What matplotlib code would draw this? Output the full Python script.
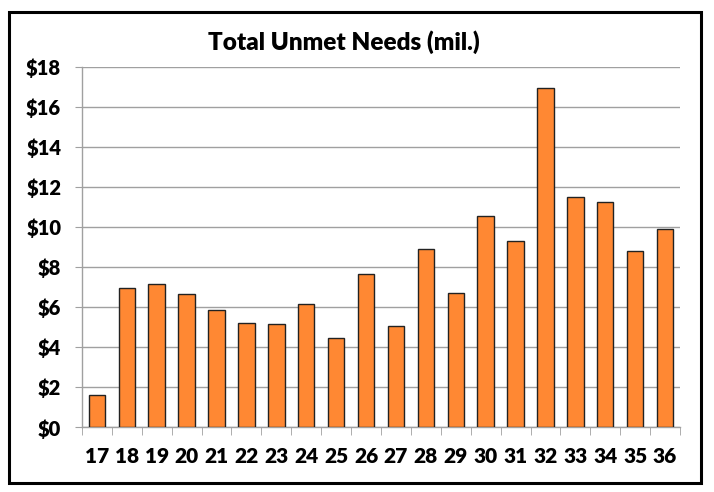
import matplotlib.pyplot as plt
from matplotlib.patches import Rectangle
from matplotlib.ticker import FuncFormatter
import numpy as np

# data (millions of dollars)
districts = ["17", "18", "19", "20", "21", "22", "23", "24", "25", "26",
             "27", "28", "29", "30", "31", "32", "33", "34", "35", "36"]
unmet = [1.61, 6.94, 7.15, 6.63, 5.84, 5.22, 5.15, 6.15, 4.44, 7.66,
         5.05, 8.91, 6.69, 10.54, 9.28, 16.91, 11.48, 11.23, 8.81, 9.88]
y_ticks = [0, 2, 4, 6, 8, 10, 12, 14, 16, 18]

plt.rcParams['font.family'] = ['Lato', 'DejaVu Sans']

fig = plt.figure(figsize=(7.14, 4.92), dpi=100)
ax = fig.add_axes([0.1148, 0.1315, 0.8376, 0.7333])

x = np.arange(len(districts))
ax.bar(x, unmet, width=0.55, color="#FF8833", edgecolor="#222222",
       linewidth=1.0, zorder=3)

ax.set_xlim(-0.5, len(districts) - 0.5)
ax.set_ylim(0, 18)
ax.set_yticks(y_ticks)
ax.yaxis.set_major_formatter(FuncFormatter(lambda v, p: f"${v:.0f}"))
ax.set_xticks(x)
ax.set_xticklabels(districts)
ax.set_xticks(np.arange(-0.5, len(districts)), minor=True)

ax.grid(axis="y", color="#A0A0A0", linewidth=1.0, zorder=0)
for s in ["top", "right"]:
    ax.spines[s].set_visible(False)
for s in ["left", "bottom"]:
    ax.spines[s].set_color("#A0A0A0")
    ax.spines[s].set_linewidth(1.0)

ax.tick_params(axis="y", length=5, color="#A0A0A0", pad=10,
               labelsize=14.5)
ax.tick_params(axis="x", which="major", length=0, pad=14, labelsize=15)
ax.tick_params(axis="x", which="minor", length=6, color="#A0A0A0")
for lab in ax.get_xticklabels() + ax.get_yticklabels():
    lab.set_fontweight("heavy")

fig.text(0.481, 0.915, "Total Unmet Needs (mil.)", ha="center", va="center",
         fontsize=17.5, fontweight="heavy")

# outer frame around the whole chart
fig.patches.append(Rectangle((0.0126, 0.0183), 0.9685, 0.9573,
                             transform=fig.transFigure, fill=False,
                             edgecolor="black", linewidth=2.2))

fig.savefig("out.png", dpi=100)
